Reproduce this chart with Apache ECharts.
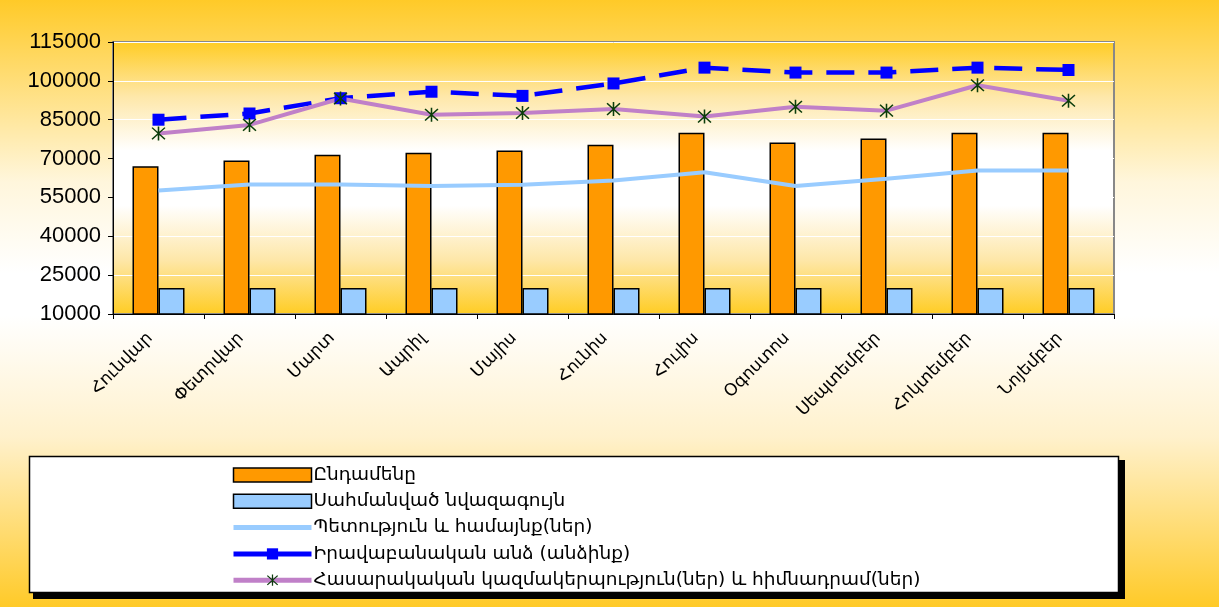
<!DOCTYPE html>
<html>
<head>
<meta charset="utf-8">
<script src="https://cdn.jsdelivr.net/npm/echarts@6/dist/echarts.min.js"></script>
<style>
html,body{margin:0;padding:0;}
#c{width:1219px;height:607px;background:linear-gradient(to bottom,#FFCA28 0%,#FFF6DC 30%,#FFFFFF 45%,#FFFFFF 52%,#FFF1CC 72%,#FFCA28 100%);}
</style>
</head>
<body>
<div id="c"></div>
<script>
const categories = ["Հունվար","Փետրվար","Մարտ","Ապրիլ","Մայիս","Հունիս","Հուլիս","Օգոստոս","Սեպտեմբեր","Հոկտեմբեր","Նոյեմբեր"];
const seriesNames = ["Ընդամենը","Սահմանված նվազագույն","Պետություն և համայնք(ներ)","Իրավաբանական անձ (անձինք)","Հասարակական կազմակերպություն(ներ) և հիմնադրամ(ներ)"];
const total = [67000,69300,71500,72200,73100,75300,80000,76200,77700,80000,80000];
const minimum = [20000,20000,20000,20000,20000,20000,20000,20000,20000,20000,20000];
const stateCommunity = [57700,60000,60000,59400,59900,61500,64700,59400,62200,65400,65400];
const legalEntity = [85000,87400,93300,95800,94200,99000,105100,103200,103200,105100,104200];
const publicOrg = [79700,83000,93200,86900,87600,89100,86200,90000,88500,98300,92300];
const yTicks = {min:10000, max:115000, interval:15000};

const asterisk = 'path://M9,0 L11,0 L11,20 L9,20 Z M1,2.4 L2.4,1 L19,17.6 L17.6,19 Z M17.6,1 L19,2.4 L2.4,19 L1,17.6 Z';

const chart = echarts.init(document.getElementById('c'), null, {renderer:'canvas'});
chart.setOption({
  backgroundColor:'transparent',
  animation:false,
  textStyle:{fontFamily:'"Liberation Sans","DejaVu Sans",sans-serif'},
  grid:{left:113,right:105,top:42,bottom:293,show:true,borderColor:'#888',borderWidth:2,
    backgroundColor:{type:'linear',x:0,y:0,x2:0,y2:1,colorStops:[
      {offset:0,color:'#FFCC22'},{offset:0.2,color:'#FEE7A8'},{offset:0.4,color:'#FFFFFF'},
      {offset:0.6,color:'#FFFFFF'},{offset:0.8,color:'#FEE7A8'},{offset:1,color:'#FFCC22'}]}},
  graphic:[
    {type:'rect',z:-2,shape:{x:33,y:460,width:1092,height:139},style:{fill:'#000'}},
    {type:'rect',z:-1,shape:{x:29.5,y:456.5,width:1089,height:136},style:{fill:'#fff',stroke:'#000',lineWidth:1.5}}
  ],
  legend:{orient:'vertical',left:226,top:460,itemWidth:78,itemHeight:14,itemGap:6.3,z:10,
    textStyle:{fontSize:18.5,color:'#000',fontFamily:'"DejaVu Sans",sans-serif',lineHeight:20,padding:[0,0,0,-3]},
    data:[
      {name:seriesNames[0],icon:'rect',itemStyle:{borderColor:'#000',borderWidth:1.5}},
      {name:seriesNames[1],icon:'rect',itemStyle:{borderColor:'#000',borderWidth:1.5}},
      {name:seriesNames[2],lineStyle:{width:5},itemStyle:{opacity:0}},
      {name:seriesNames[3],lineStyle:{width:5,type:'solid'}},
      {name:seriesNames[4],lineStyle:{width:5}}
    ]},
  xAxis:{type:'category',data:categories,boundaryGap:true,
    axisLine:{lineStyle:{color:'#000',width:1}},
    axisTick:{show:true,alignWithLabel:false,length:5,lineStyle:{color:'#000'}},
    axisLabel:{rotate:45,fontSize:17,color:'#000',margin:13,padding:[0,12,0,0],fontFamily:'"DejaVu Sans",sans-serif'},
    splitLine:{show:false}},
  yAxis:{type:'value',min:yTicks.min,max:yTicks.max,interval:yTicks.interval,
    axisLine:{show:true,lineStyle:{color:'#000',width:1}},
    axisTick:{show:true,length:5,lineStyle:{color:'#000'}},
    axisLabel:{fontSize:22,color:'#000',margin:12,fontFamily:'"Liberation Sans",sans-serif',
      formatter:function(v){return String(v);}},
    splitLine:{show:true,lineStyle:{color:'#fff',width:1}}},
  series:[
    {name:seriesNames[0],type:'bar',data:total,barWidth:26,barGap:'0%',
      itemStyle:{color:'#FF9900',borderColor:'#000',borderWidth:1.5}},
    {name:seriesNames[1],type:'bar',data:minimum,barWidth:26,barGap:'0%',
      itemStyle:{color:'#99CCFF',borderColor:'#000',borderWidth:1.5}},
    {name:seriesNames[2],type:'line',data:stateCommunity,symbol:'none',z:5,
      lineStyle:{color:'#99CCFF',width:4},itemStyle:{color:'#99CCFF'}},
    {name:seriesNames[3],type:'line',data:legalEntity,symbol:'rect',symbolSize:12,z:6,
      lineStyle:{color:'#0000FF',width:4.5,type:[28,14]},itemStyle:{color:'#0000FF'}},
    {name:seriesNames[4],type:'line',data:publicOrg,symbol:asterisk,symbolSize:14,z:6,
      lineStyle:{color:'#C080C8',width:4},itemStyle:{color:'#0B3D0B'}}
  ]
});
</script>
</body>
</html>
